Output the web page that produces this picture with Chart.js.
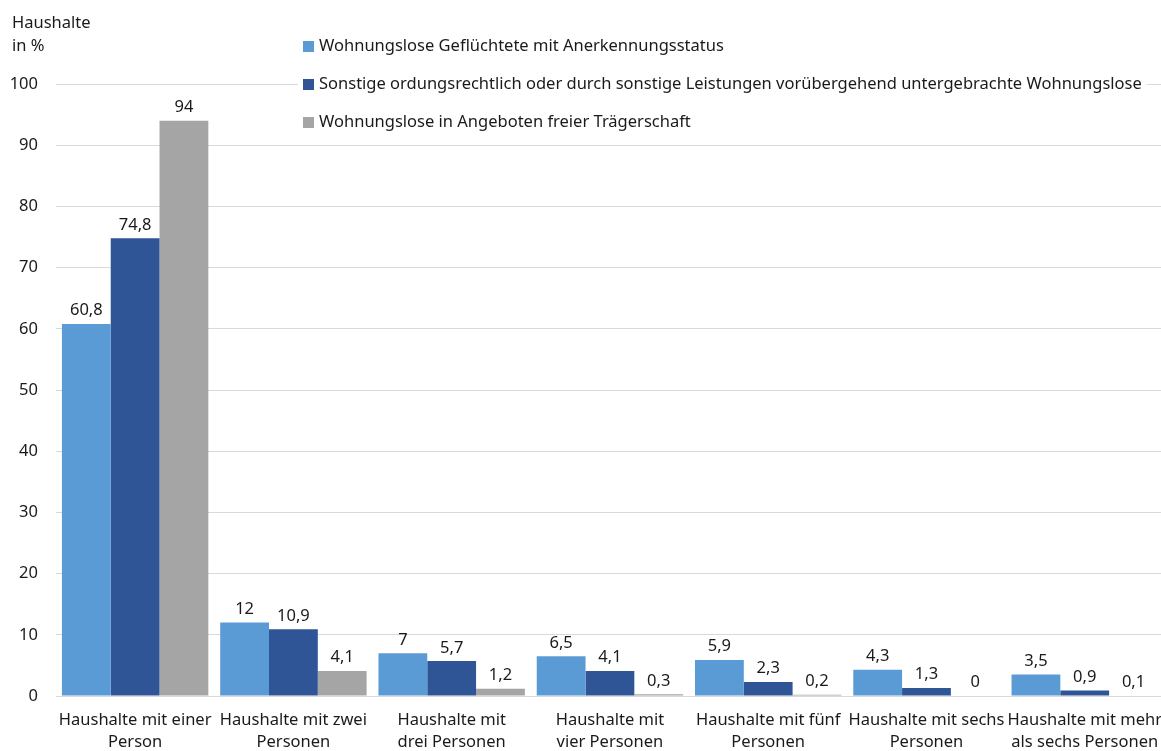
<!DOCTYPE html>
<html>
<head>
<meta charset="utf-8">
<script src="https://cdn.jsdelivr.net/npm/chart.js@4"></script>
<style>
  html, body { margin: 0; padding: 0; background: #fff; overflow: hidden; }
  #wrap { position: relative; width: 1167px; height: 751px; }
</style>
</head>
<body>
<div id="wrap"><canvas id="chart" width="1167" height="751"></canvas></div>
<script>
const categories = [
  ['Haushalte mit einer', 'Person'],
  ['Haushalte mit zwei', 'Personen'],
  ['Haushalte mit', 'drei Personen'],
  ['Haushalte mit', 'vier Personen'],
  ['Haushalte mit fünf', 'Personen'],
  ['Haushalte mit sechs', 'Personen'],
  ['Haushalte mit mehr', 'als sechs Personen']
];
const seriesNames = [
  'Wohnungslose Geflüchtete mit Anerkennungsstatus',
  'Sonstige ordungsrechtlich oder durch sonstige Leistungen vorübergehend untergebrachte Wohnungslose',
  'Wohnungslose in Angeboten freier Trägerschaft'
];
const gefluechtete = [60.8, 12, 7, 6.5, 5.9, 4.3, 3.5];
const sonstige = [74.8, 10.9, 5.7, 4.1, 2.3, 1.3, 0.9];
const freieTraeger = [94, 4.1, 1.2, 0.3, 0.2, 0, 0.1];
const yTicks = [0, 10, 20, 30, 40, 50, 60, 70, 80, 90, 100];

const colors = ['#5b9bd5', '#2f5597', '#a5a5a5'];
const FONT = '"Noto Sans", "Open Sans", sans-serif';
const FSIZE = 16.5;

// Werte über den Balken
const valueLabels = {
  id: 'valueLabels',
  afterDatasetsDraw(chart) {
    const ctx = chart.ctx;
    ctx.save();
    ctx.font = FSIZE + 'px ' + FONT;
    ctx.fillStyle = '#1a1a1a';
    ctx.textAlign = 'center';
    ctx.textBaseline = 'bottom';
    chart.data.datasets.forEach((ds, i) => {
      chart.getDatasetMeta(i).data.forEach((bar, j) => {
        const txt = String(ds.data[j]).replace('.', ',');
        ctx.fillText(txt, bar.x, bar.y - 5);
      });
    });
    ctx.restore();
  }
};

// Titel und Legende (liegen über dem Diagramm)
const headerAndLegend = {
  id: 'headerAndLegend',
  afterDraw(chart) {
    const ctx = chart.ctx;
    ctx.save();
    ctx.font = FSIZE + 'px ' + FONT;
    ctx.fillStyle = '#1a1a1a';
    ctx.textAlign = 'left';
    ctx.textBaseline = 'middle';
    ctx.fillText('Haushalte', 12, 23);
    ctx.fillText('in %', 12, 46);

    seriesNames.forEach((name, i) => {
      const y = 46 + i * 38;
      const w = ctx.measureText(name).width;
      ctx.fillStyle = '#fff';
      ctx.fillRect(298, y - 12, w + 26, 24);
      ctx.fillStyle = colors[i];
      ctx.fillRect(303, y - 5, 11, 11);
      ctx.fillStyle = '#1a1a1a';
      ctx.fillText(name, 319, y);
    });
    ctx.restore();
  }
};

new Chart(document.getElementById('chart').getContext('2d'), {
  type: 'bar',
  data: {
    labels: categories,
    datasets: [
      { label: seriesNames[0], data: gefluechtete, backgroundColor: colors[0] },
      { label: seriesNames[1], data: sonstige, backgroundColor: colors[1] },
      { label: seriesNames[2], data: freieTraeger, backgroundColor: colors[2] }
    ]
  },
  options: {
    responsive: false,
    animation: false,
    layout: { padding: { top: 84, right: 0, left: 0, bottom: 0 } },
    datasets: {
      bar: { barPercentage: 1, categoryPercentage: 0.925, borderWidth: 0 }
    },
    plugins: {
      legend: { display: false },
      tooltip: { enabled: false }
    },
    scales: {
      x: {
        grid: { display: false },
        border: { display: false },
        ticks: {
          color: '#1a1a1a',
          font: { family: FONT, size: FSIZE, lineHeight: 1.35 },
          padding: 5,
          maxRotation: 0,
          autoSkip: false
        },
        afterFit(scale) { scale.height = 55; }
      },
      y: {
        min: 0,
        max: 100,
        afterBuildTicks(scale) { scale.ticks = yTicks.map(v => ({ value: v })); },
        grid: { color: '#d9d9d9', lineWidth: 1, drawTicks: false },
        border: { display: false },
        ticks: {
          color: '#1a1a1a',
          font: { family: FONT, size: FSIZE },
          padding: 18
        },
        afterFit(scale) { scale.width = 56; }
      }
    }
  },
  plugins: [valueLabels, headerAndLegend]
});
</script>
</body>
</html>
